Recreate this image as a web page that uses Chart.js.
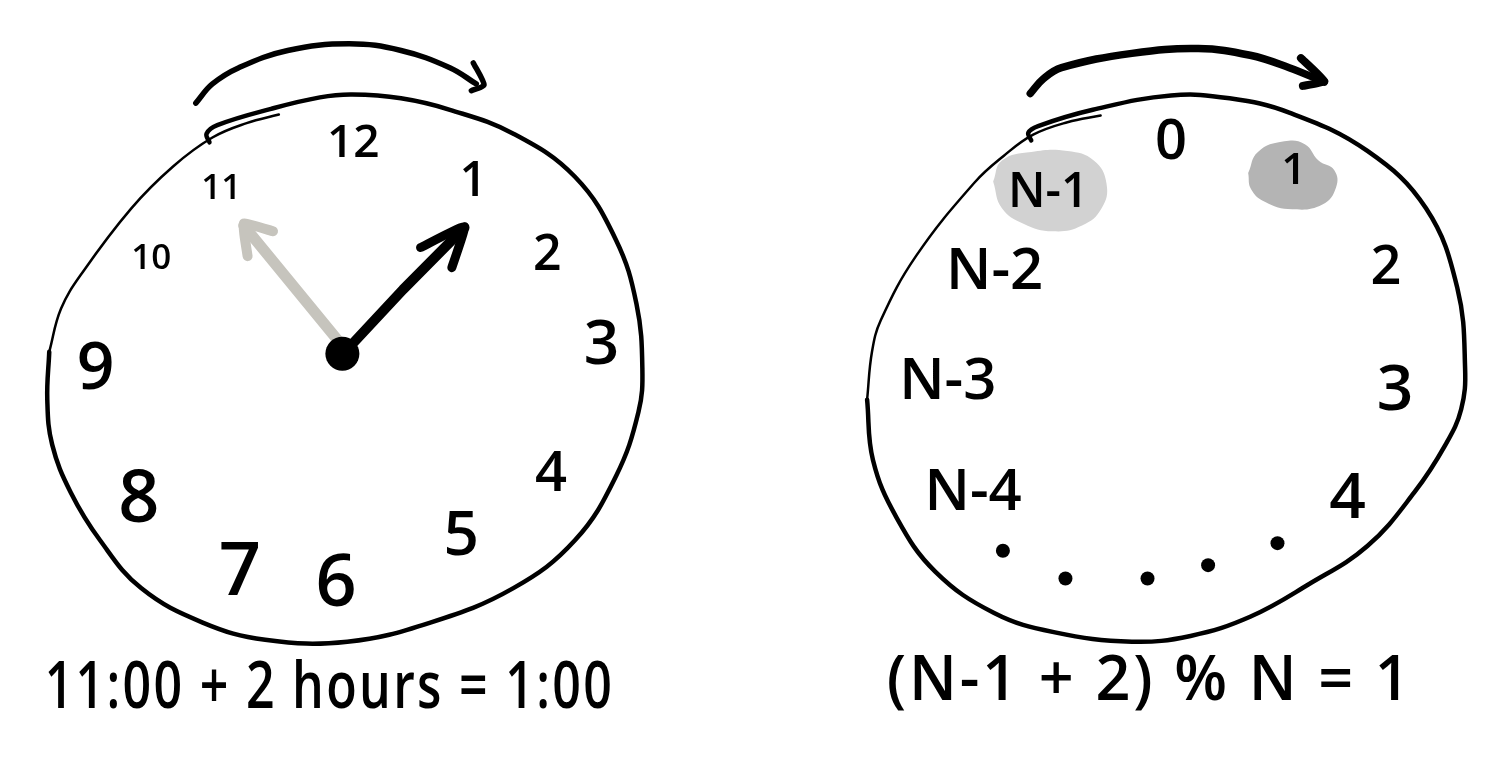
<!DOCTYPE html>
<html><head><meta charset="utf-8">
<script src="https://cdn.jsdelivr.net/npm/chart.js@4.4.1/dist/chart.umd.min.js"></script>
<style>html,body{margin:0;padding:0;background:#fff;overflow:hidden}canvas{display:block}</style>
</head><body>
<canvas id="c" width="1486" height="784"></canvas>
<script>
// ---------- data (picture coordinates) ----------
// Left clock rim (thick part, clockwise from the top-left hook)
const leftRimX = [197,194,205,260,310,343,393,443,508,571,613,634,640,636,613,571,508,423,338,254,190,127,85,55,36,31,33];
const leftRimY = [131,122,113,96,84,81,85,97,122,167,233,300,367,413,480,547,597,633,653,651,633,597,547,497,447,400,350];
// Left clock rim (thin upper-left part)
const leftRimThinX = [33,45,67,117,160,200,235,268];
const leftRimThinY = [350,305,267,200,156,126,111,102];
// Left "rotation" arrow above the clock
const leftArrowX = [183,200,227,277,340,393,443,470];
const leftArrowY = [90,70,53,35,28,35,53,70];
const leftHeadX = [467,478,465];
const leftHeadY = [48,71,77];
// Clock hands
const minuteHandX = [330,232];
const minuteHandY = [340,218];
const minuteHeadX = [262,232,236];
const minuteHeadY = [224,216,250];
const hourHandX = [333,395,458];
const hourHandY = [353,285,220];
const hourHeadX = [413,458,445];
const hourHeadY = [241,219,262];
const hubX = [333];
const hubY = [352];
// Left clock numerals
const leftNumText = ['12','1','2','3','4','5','6','7','8','9','10','11'];
const leftNumX = [345,464,543,598,547,455,327,228,125,80,138,207];
const leftNumY = [129,169,245,340,475,540,588,577,501,364,250,177];
const leftNumSize = [46,48,50,62,56,62,72,74,72,66,35,35];

// Right clock rim
const rightRimX = [1038,1035,1045,1101,1181,1241,1302,1382,1442,1474,1482,1478,1462,1430,1382,1322,1262,1201,1141,1061,1000,940,900,876,870];
const rightRimY = [129,121,114,97,82,85,100,140,200,283,367,410,447,497,553,593,627,647,653,643,623,580,523,463,400];
const rightRimThinX = [870,875,884,920,980,1010,1040,1075,1109];
const rightRimThinY = [400,350,317,250,173,145,123,110,103];
const rightArrowX = [1037,1050,1069,1141,1209,1262,1302,1338];
const rightArrowY = [80,65,53,38,33,40,53,68];
const rightHeadX = [1314,1338,1316];
const rightHeadY = [43,67,72];
// Highlight blobs behind "N-1" and "1"
const blobLightX = [999,1008,1038,1075,1102,1115,1110,1090,1060,1030,1008,999];
const blobLightY = [172,150,141,140,150,174,200,218,224,216,200,172];
const blobDarkX = [1260,1270,1297,1318,1332,1348,1350,1336,1305,1277,1263,1260];
const blobDarkY = [163,141,130,133,150,160,178,196,201,193,180,163];
// Right clock labels
const rightNumText = ['0','N-1','1','2','N-2','N-3','3','N-4','4'];
const rightNumX = [1181,1053,1304,1401,1002,954,1410,981,1362];
const rightNumY = [128,180,158,258,262,378,387,494,500];
const rightNumSize = [56,48,44,54,58,58,64,58,64];
// Ellipsis dots
const dotX = [1009,1073,1157,1219,1290];
const dotY = [558,587,587,573,550];
// Equations under the clocks
const eqText = ['11:00 + 2 hours = 1:00','(N-1 + 2) % N = 1'];
const eqX = [319,1153];
const eqY = [697,696];
const eqWidth = [562,510];
const eqSize = [66,64];

// ---------- helpers ----------
const pts = (xs, ys) => xs.map((x, i) => ({x, y: ys[i]}));
function stroke(xs, ys, color, width, tension, order) {
  return {type:'line', data: pts(xs, ys), showLine: true, pointRadius: 0, pointHoverRadius: 0,
    borderColor: color, borderWidth: width, tension: tension, borderCapStyle: 'round',
    borderJoinStyle: 'round', fill: false, order: order || 5};
}
function blob(xs, ys, color) {
  return {type:'line', data: pts(xs, ys), showLine: true, pointRadius: 0, borderWidth: 0,
    borderColor: color, backgroundColor: color, tension: 0.45, fill: 'shape', order: 20};
}
function dots(xs, ys, r) {
  return {type:'line', data: pts(xs, ys), showLine: false, pointRadius: r, pointHoverRadius: r,
    pointBackgroundColor: '#000', pointBorderColor: '#000', pointBorderWidth: 0, order: 1};
}
function textSet(texts, xs, ys, sizes, widths, spacing) {
  return {type:'line', data: pts(xs, ys), showLine: false, pointRadius: 0, pointHoverRadius: 0,
    texts: texts, textSizes: sizes, textWidths: widths || null, textSpacing: spacing || 0, order: 0};
}

const handText = {
  id: 'handText',
  afterDatasetsDraw(chart) {
    const ctx = chart.ctx;
    chart.data.datasets.forEach((ds, i) => {
      if (!ds.texts) return;
      const meta = chart.getDatasetMeta(i);
      meta.data.forEach((el, j) => {
        const t = ds.texts[j];
        const size = ds.textSizes[j];
        ctx.save();
        ctx.font = '600 ' + size + 'px "Open Sans", "Noto Sans", sans-serif';
        if ('letterSpacing' in ctx) ctx.letterSpacing = ds.textSpacing + 'px';
        ctx.fillStyle = '#000';
        ctx.textAlign = 'left';
        ctx.textBaseline = 'alphabetic';
        const m = ctx.measureText(t);
        const w = m.actualBoundingBoxLeft + m.actualBoundingBoxRight;
        const h = m.actualBoundingBoxAscent + m.actualBoundingBoxDescent;
        let sx = 1;
        if (ds.textWidths && ds.textWidths[j]) sx = ds.textWidths[j] / w;
        ctx.translate(el.x, el.y);
        ctx.scale(sx, 1);
        ctx.fillText(t, -w / 2 + m.actualBoundingBoxLeft, h / 2 - m.actualBoundingBoxDescent);
        ctx.restore();
      });
    });
  }
};

const datasets = [
  blob(blobLightX, blobLightY, '#d2d2d2'),
  blob(blobDarkX, blobDarkY, '#b4b4b4'),
  stroke(leftRimX, leftRimY, '#000', 4.5, 0.4),
  stroke(leftRimThinX, leftRimThinY, '#000', 2.5, 0.4),
  stroke(leftArrowX, leftArrowY, '#000', 5.5, 0.4),
  stroke(leftHeadX, leftHeadY, '#000', 5.5, 0.2),
  stroke(minuteHandX, minuteHandY, '#c6c4bd', 11, 0, 6),
  stroke(minuteHeadX, minuteHeadY, '#c6c4bd', 10, 0.1, 6),
  stroke(hourHandX, hourHandY, '#000', 10, 0),
  stroke(hourHeadX, hourHeadY, '#000', 9, 0.1),
  dots(hubX, hubY, 17),
  stroke(rightRimX, rightRimY, '#000', 4.5, 0.4),
  stroke(rightRimThinX, rightRimThinY, '#000', 2.5, 0.4),
  stroke(rightArrowX, rightArrowY, '#000', 7.5, 0.4),
  stroke(rightHeadX, rightHeadY, '#000', 8, 0.1),
  dots(dotX, dotY, 7),
  textSet(leftNumText, leftNumX, leftNumY, leftNumSize),
  textSet(rightNumText, rightNumX, rightNumY, rightNumSize),
  textSet(eqText, eqX, eqY, eqSize, eqWidth, 3)
];

new Chart(document.getElementById('c'), {
  type: 'line',
  data: {datasets},
  options: {
    responsive: false,
    animation: false,
    events: [],
    layout: {padding: 0},
    scales: {
      x: {type: 'linear', min: 0, max: 1486, display: false},
      y: {type: 'linear', min: 0, max: 784, reverse: true, display: false}
    },
    plugins: {legend: {display: false}, tooltip: {enabled: false}}
  },
  plugins: [handText]
});
</script>
</body></html>
